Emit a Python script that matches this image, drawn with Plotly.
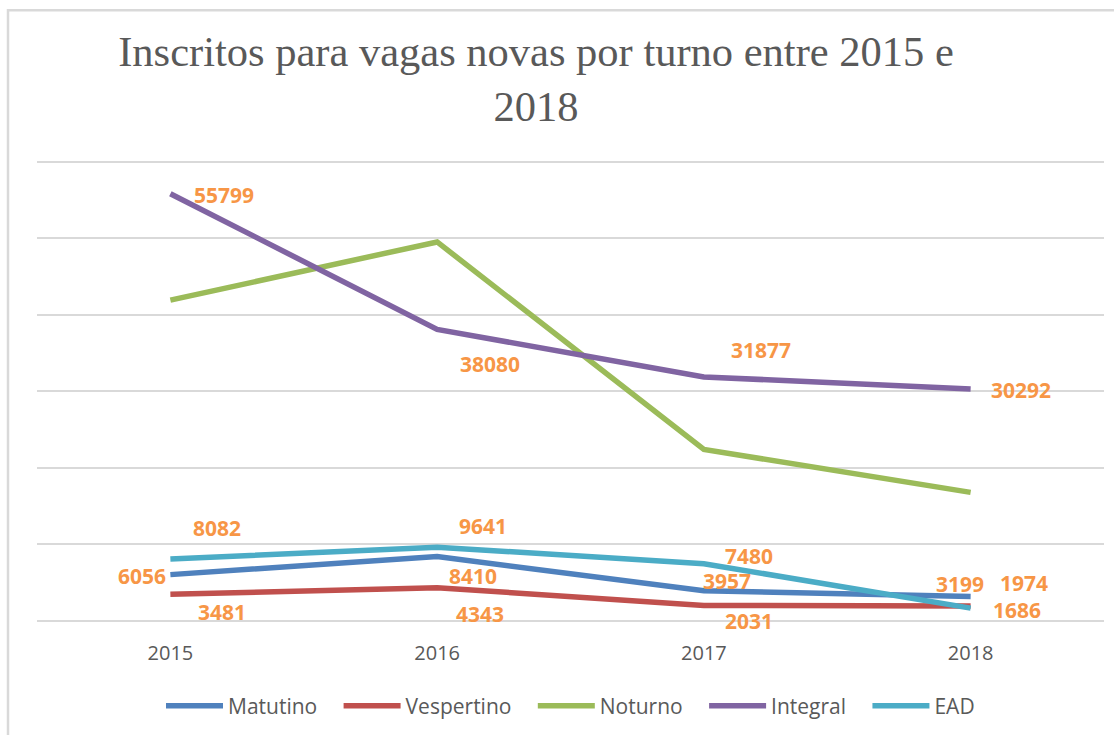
import plotly.graph_objects as go

years = ["2015", "2016", "2017", "2018"]
matutino = [6056, 8410, 3957, 3199]
vespertino = [3481, 4343, 2031, 1974]
noturno = [41900, 49500, 22400, 16800]
integral = [55799, 38080, 31877, 30292]
ead = [8082, 9641, 7480, 1686]

series = [
    ("Matutino", matutino, "#4F81BD", True),
    ("Vespertino", vespertino, "#C0504D", True),
    ("Noturno", noturno, "#9BBB59", False),
    ("Integral", integral, "#8064A2", True),
    ("EAD", ead, "#4BACC6", True),
]

# label pixel offsets (style only): (xshift, yshift, xanchor)
label_offsets = {
    "Matutino": [(-2, -1, "right"), (36, -19, "center"), (23, 10, "center"), (-11, 13, "center")],
    "Vespertino": [(52, -18, "center"), (43, -26, "center"), (45, -16, "center"), (53, 23, "center")],
    "Integral": [(54, -1, "center"), (53, -35, "center"), (57, 27, "center"), (50, -1, "center")],
    "EAD": [(47, 31, "center"), (46, 21, "center"), (45, 8, "center"), (46, -2, "center")],
}

LEGEND_PAD = "\u00a0" * 3

fig = go.Figure()
for k, (name, vals, color, labeled) in enumerate(series):
    pad = LEGEND_PAD if k < len(series) - 1 else ""
    fig.add_trace(go.Scatter(
        x=years, y=vals, name=name + pad, mode="lines",
        line=dict(color=color, width=5.5),
    ))
    if labeled:
        for i, v in enumerate(vals):
            dx, dy, xa = label_offsets[name][i]
            fig.add_annotation(
                x=i, y=v, xref="x", yref="y",
                text="<b>" + str(v) + "</b>", showarrow=False,
                xshift=dx, yshift=dy, xanchor=xa, yanchor="middle",
                font=dict(family="Open Sans", size=21, color="#F79646"),
            )

fig.update_layout(
    width=1114, height=735,
    margin=dict(l=37, r=10, t=160, b=113),
    paper_bgcolor="white", plot_bgcolor="white",
    title=dict(
        text="Inscritos para vagas novas por turno entre 2015 e<br>2018",
        font=dict(family="Liberation Serif", size=42.5, color="#595959"),
        x=536 / 1114, xref="container", xanchor="center",
        y=1 - 66 / 735, yref="container", yanchor="top",
    ),
    xaxis=dict(
        type="category", range=[-0.5, 3.5], showgrid=False, showline=False,
        zeroline=False, ticks="", ticklabelstandoff=18,
        tickfont=dict(family="Open Sans", size=20, color="#595959"),
    ),
    yaxis=dict(
        range=[0, 60200], dtick=10000, showticklabels=False,
        gridcolor="#D9D9D9", gridwidth=2, zeroline=True,
        zerolinecolor="#D9D9D9", zerolinewidth=2, showline=False,
    ),
    legend=dict(
        orientation="h", x=0.5, xanchor="center", y=-0.182, yanchor="middle",
        font=dict(family="Open Sans", size=21, color="#595959"),
        itemwidth=57, traceorder="normal",
    ),
    shapes=[dict(
        type="rect", xref="paper", yref="paper",
        x0=(8 - 37) / 1067, x1=1.2, y0=-0.4, y1=(622 - 10) / 462,
        line=dict(color="#D9D9D9", width=2.5), fillcolor="rgba(0,0,0,0)", layer="below",
    )],
)

fig.write_html("out.html", config={"displayModeBar": False},
               post_script="document.body.style.margin='0px';")
